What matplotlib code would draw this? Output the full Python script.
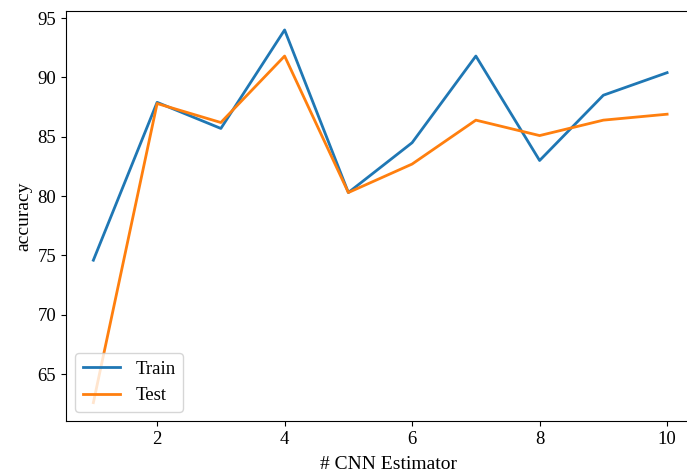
import matplotlib
matplotlib.use("Agg")
import matplotlib.pyplot as plt

plt.rcParams['font.family'] = ['Liberation Serif', 'DejaVu Serif']
plt.rcParams['font.size'] = 13.5

estimators = [1, 2, 3, 4, 5, 6, 7, 8, 9, 10]
train_acc = [74.6, 87.9, 85.7, 94.0, 80.3, 84.5, 91.8, 83.0, 88.5, 90.4]
test_acc = [62.6, 87.8, 86.2, 91.8, 80.3, 82.7, 86.4, 85.1, 86.4, 86.9]

fig = plt.figure(figsize=(6.87, 4.76), dpi=100)
ax = fig.add_axes([0.096, 0.1155, 0.94, 0.8615])
ax.plot(estimators, train_acc, label='Train', lw=2)
ax.plot(estimators, test_acc, label='Test', lw=2)
ax.set_xlim(0.57, 10.7)
ax.set_ylim(61.05, 95.6)
ax.set_xlabel('# CNN Estimator', fontsize=14, labelpad=6)
ax.set_ylabel('accuracy', fontsize=14)
ax.legend(loc='lower left')
fig.savefig('out.png', dpi=100)
